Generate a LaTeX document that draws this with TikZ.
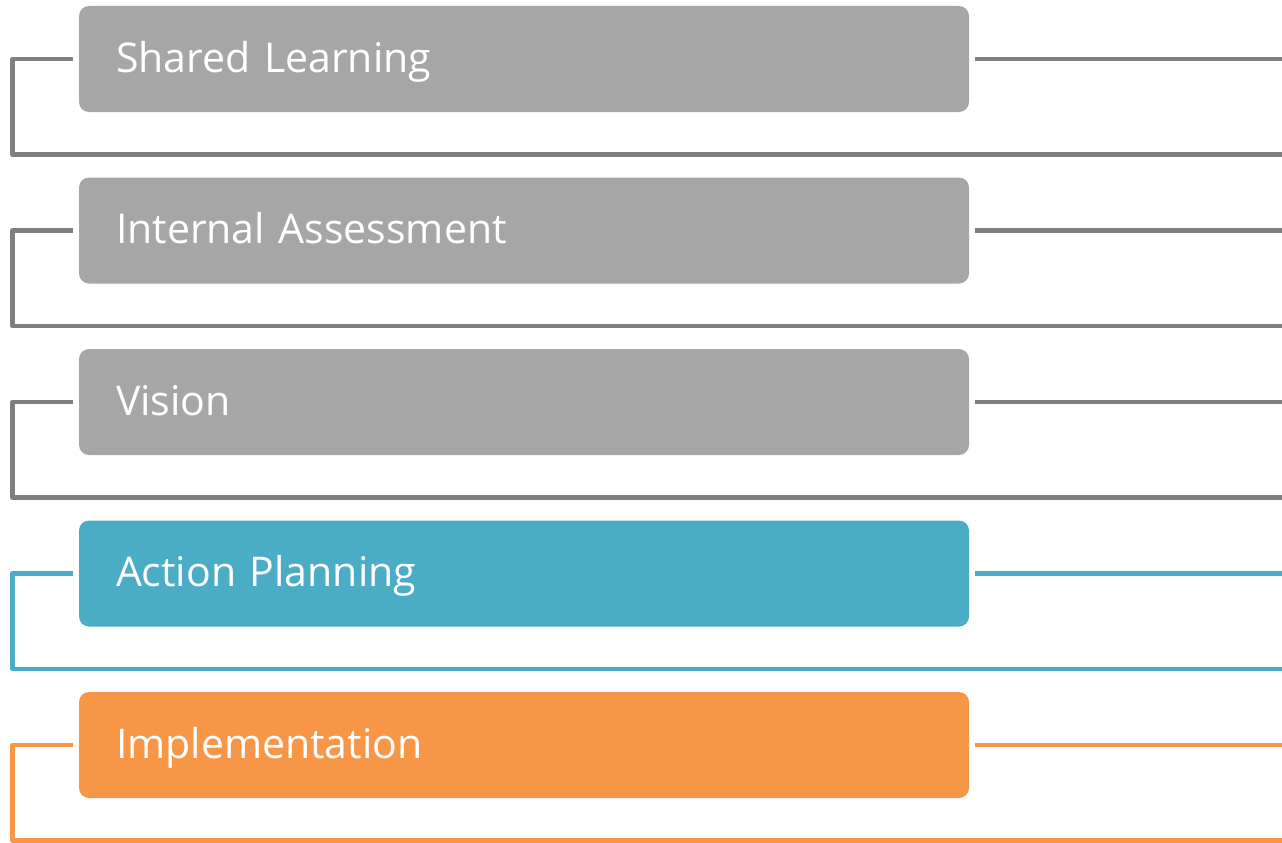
\documentclass[tikz,border=0pt]{standalone}
\usepackage{fontspec}
\setmainfont{Open Sans}
\usetikzlibrary{positioning}

\definecolor{boxgray}{HTML}{A6A6A6}
\definecolor{linegray}{HTML}{808080}
\definecolor{stepblue}{HTML}{4BACC6}
\definecolor{steporange}{HTML}{F79646}

\begin{document}
\begin{tikzpicture}
    [
        x=1pt, y=-1pt, node distance=171.5pt, on grid,
        step_box/.style={rectangle, rounded corners=10pt, minimum width=890pt, minimum height=106pt, text width=816pt, text height=30pt, text depth=4pt, inner xsep=37pt, align=left, text=white, font=\fontsize{41}{48}\selectfont},
        gray_box/.style={step_box, fill=boxgray},
        blue_box/.style={step_box, fill=stepblue},
        orange_box/.style={step_box, fill=steporange},
        link_line/.style={line width=4.5pt, line join=round},
    ]
        \useasboundingbox (0,0) rectangle (1282,843);

        \node[gray_box] (shared) at (524,59) {Shared Learning};
        \node[gray_box] (internal) [below = of shared] {Internal Assessment};
        \node[gray_box] (vision) [below = of internal] {Vision};
        \node[blue_box] (action) [below = of vision] {Action Planning};
        \node[orange_box] (impl) [below = of action] {Implementation};

        % free ends of the brackets
        \coordinate (shared_c) at (12.5,154.5);
        \coordinate (shared_b) at (1282,154.5);
        \coordinate (shared_r) at (1282,59);
        \coordinate (internal_c) at (12.5,326);
        \coordinate (internal_b) at (1282,326);
        \coordinate (internal_r) at (1282,230.5);
        \coordinate (vision_c) at (12.5,497.5);
        \coordinate (vision_b) at (1282,497.5);
        \coordinate (vision_r) at (1282,402);
        \coordinate (action_c) at (12.5,669);
        \coordinate (action_b) at (1282,669);
        \coordinate (action_r) at (1282,573.5);
        \coordinate (impl_c) at (12.5,840.5);
        \coordinate (impl_b) at (1282,840.5);
        \coordinate (impl_r) at (1282,745);

        \draw[link_line, color=linegray] ([xshift=-6pt]shared.west) -| (shared_c) -- (shared_b) ;
        \draw[link_line, color=linegray] ([xshift=6pt]shared.east) -- (shared_r) ;
        \draw[link_line, color=linegray] ([xshift=-6pt]internal.west) -| (internal_c) -- (internal_b) ;
        \draw[link_line, color=linegray] ([xshift=6pt]internal.east) -- (internal_r) ;
        \draw[link_line, color=linegray] ([xshift=-6pt]vision.west) -| (vision_c) -- (vision_b) ;
        \draw[link_line, color=linegray] ([xshift=6pt]vision.east) -- (vision_r) ;
        \draw[link_line, color=stepblue] ([xshift=-6pt]action.west) -| (action_c) -- (action_b) ;
        \draw[link_line, color=stepblue] ([xshift=6pt]action.east) -- (action_r) ;
        \draw[link_line, color=steporange] ([xshift=-6pt]impl.west) -| (impl_c) -- (impl_b) ;
        \draw[link_line, color=steporange] ([xshift=6pt]impl.east) -- (impl_r) ;
    \end{tikzpicture}
\end{document}
